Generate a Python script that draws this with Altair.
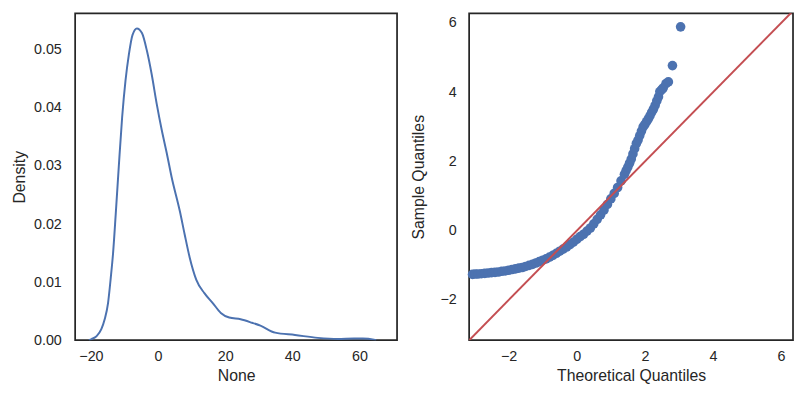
import altair as alt
import pandas as pd

# KDE curve
kde_x = [-20.6, -19.8, -18.3, -16.9, -15.9, -14.9, -14.1, -13.4, -12.6, -11.7, -10.7, -9.7, -8.7,
         -7.6, -6.3, -4.8, -3.3, -1.9, -0.4, 1.1, 2.6, 4.0, 6.5, 7.9, 9.4, 11.4, 13.8, 16.3, 18.7,
         21.2, 24.6, 28.0, 30.5, 34.9, 40.8, 47.6, 53.5, 58.4, 61.0, 64.3, 65.0]
kde_y = [0.0, 0.0002, 0.0007, 0.0019, 0.0036, 0.0064, 0.0107, 0.0150, 0.0218, 0.0299, 0.0384, 0.0447, 0.0492,
         0.0526, 0.0537, 0.0529, 0.0498, 0.0458, 0.0407, 0.0362, 0.0322, 0.0282, 0.0222, 0.0183, 0.0143, 0.0104,
         0.0081, 0.0064, 0.0047, 0.0039, 0.0036, 0.0030, 0.0025, 0.0013, 0.0009, 0.0004, 0.0002, 0.0003, 0.0003,
         0.0001, 0.0]

# QQ points (theoretical, sample)
qq_t = [-3.06, -2.98, -2.9, -2.8, -2.7, -2.6, -2.5, -2.4, -2.3, -2.2, -2.1, -2.0, -1.9, -1.8, -1.7,
        -1.6, -1.5, -1.4, -1.3, -1.2, -1.1, -1.0, -0.9, -0.8, -0.7, -0.6, -0.5, -0.4, -0.3, -0.2,
        -0.1, 0.0, 0.1, 0.2, 0.3, 0.4, 0.5, 0.6, 0.7, 0.8, 0.9, 1.0, 1.1, 1.2, 1.3, 1.4, 1.45, 1.5,
        1.55, 1.6, 1.65, 1.7, 1.75, 1.8, 1.85, 1.9, 1.95, 2.0, 2.05, 2.1, 2.15, 2.2, 2.25, 2.3, 2.35,
        2.4, 2.44, 2.5, 2.54, 2.62, 2.69, 2.81, 3.05]
qq_s = [-1.26, -1.25, -1.25, -1.24, -1.23, -1.22, -1.21, -1.2, -1.19, -1.17, -1.16, -1.14, -1.12, -1.10, -1.08,
        -1.06, -1.03, -1.00, -0.97, -0.93, -0.89, -0.85, -0.81, -0.76, -0.71, -0.65, -0.59, -0.53, -0.47, -0.40,
        -0.33, -0.25, -0.17, -0.10, -0.01, 0.08, 0.20, 0.33, 0.46, 0.60, 0.76, 0.92, 1.08, 1.25, 1.44, 1.63, 1.74, 1.84,
        1.95, 2.07, 2.22, 2.37, 2.52, 2.62, 2.75, 2.88, 3.0, 3.07, 3.15, 3.23, 3.32, 3.42, 3.51, 3.62, 3.75,
        3.87, 4.02, 4.08, 4.13, 4.25, 4.30, 4.77, 5.89]

# 45-degree reference line endpoints
line_x = [-3.16, 6.35]
line_y = [-3.16, 6.35]

left_ticks_x = [-20, 0, 20, 40, 60]
left_ticks_y = [0.0, 0.01, 0.02, 0.03, 0.04, 0.05]
right_ticks = [-2, 0, 2, 4, 6]

BLUE = "#4C72B0"
RED = "#C44E52"
TXT = "#262626"

kde_df = pd.DataFrame({"x": kde_x, "y": kde_y})
qq_df = pd.DataFrame({"t": qq_t, "s": qq_s})
line_df = pd.DataFrame({"t": line_x, "s": line_y})

axis_common = dict(domain=False, grid=False, ticks=False, labelFontSize=14.5, titleFontSize=16,
                   labelColor=TXT, titleColor=TXT, titleFontWeight="normal",
                   labelFont="Liberation Sans", titleFont="Liberation Sans")

left = alt.Chart(kde_df).mark_line(color=BLUE, strokeWidth=2, interpolate="monotone", clip=True).encode(
    x=alt.X("x:Q", title="None",
            scale=alt.Scale(domain=[-24.7, 71.2], nice=False, zero=False),
            axis=alt.Axis(values=left_ticks_x, labelPadding=10, titlePadding=4, **axis_common)),
    y=alt.Y("y:Q", title="Density",
            scale=alt.Scale(domain=[0, 0.0563], nice=False),
            axis=alt.Axis(values=left_ticks_y, format=".2f", labelPadding=14, titlePadding=6, **axis_common)),
).properties(width=326, height=331)

xs = alt.Scale(domain=[-3.16, 6.35], nice=False, zero=False)
ys = alt.Scale(domain=[-3.16, 6.28], nice=False, zero=False)

pts = alt.Chart(qq_df).mark_circle(color=BLUE, size=95, opacity=1).encode(
    x=alt.X("t:Q", title="Theoretical Quantiles", scale=xs,
            axis=alt.Axis(values=right_ticks, labelPadding=10, titlePadding=4, **axis_common)),
    y=alt.Y("s:Q", title="Sample Quantiles", scale=ys,
            axis=alt.Axis(values=right_ticks, labelPadding=13, titlePadding=14, **axis_common)),
)
ref = alt.Chart(line_df).mark_line(color=RED, strokeWidth=2, clip=True).encode(
    x=alt.X("t:Q", scale=xs), y=alt.Y("s:Q", scale=ys)
)
right = alt.layer(pts, ref).properties(width=328, height=331)

chart = alt.hconcat(left, right, spacing=11).properties(
    padding={"left": 2, "top": 2, "right": 0, "bottom": 0},
    background="white",
).configure_view(stroke=TXT, strokeWidth=1.75)

chart.save("out.html", embed_options={"renderer": "svg", "actions": False})
